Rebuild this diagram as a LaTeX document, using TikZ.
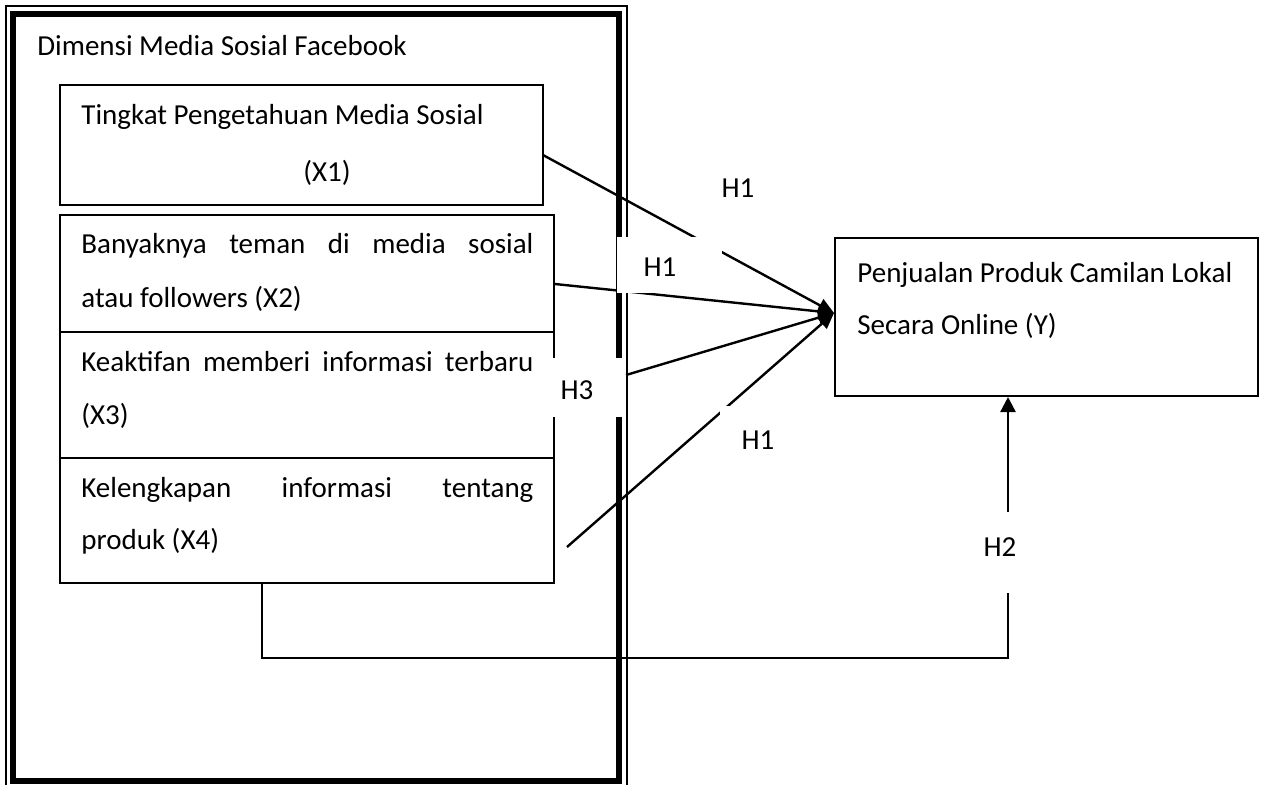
\documentclass[tikz,border=0pt]{standalone}
\usepackage{fontspec}
\setmainfont{Carlito}
\usetikzlibrary{fit,arrows.meta}
\newcommand\figfont{\fontsize{14.5pt}{17pt}\selectfont}
\begin{document}
\begin{tikzpicture}[x=0.5pt,y=-0.5pt,
  box/.style={draw,line width=1pt,inner sep=0pt},
  txt/.style={inner sep=0pt,anchor=base west,font=\figfont},
  lbl/.style={inner sep=0pt,font=\figfont},
  conn/.style={line width=1.2pt,-{Triangle[length=8pt,width=7pt]}},
  cover/.style={fill=white,draw=none}]
\useasboundingbox (0,0) rectangle (1262,784);
% frame
\draw[line width=1pt] (6,800) -- (6,6) -- (627,6) -- (627,800);
\draw[line width=3.3pt] (13,14) rectangle (619,781);
% boxes
\node[box,fit={(60,85)(543,205)}] (x1) {};
\node[box,fit={(60,215)(554,332)}] (x2) {};
\node[box,fit={(60,332)(554,458)}] (x3) {};
\node[box,fit={(60,458)(554,583)}] (x4) {};
\node[box,fit={(835,238)(1258,396)}] (y) {};
% connectors
\coordinate (s1) at (543,155);
\coordinate (s2) at (555,284);
\coordinate (s3) at (626,375);
\coordinate (s4) at (567,547);
\coordinate (tip) at (834,313);
\draw[conn] (s1) -- (tip);
\draw[conn] (s2) -- (tip);
\draw[conn] (s3) -- (tip);
\draw[conn] (s4) -- (tip);
\coordinate (h2a) at (262,583);
\coordinate (h2b) at (1008,658);
\draw[line width=1.2pt,-{Triangle[length=7.5pt,width=7.5pt]}] (h2a) |- (h2b) -- (h2b |- y.south);
% label covers
\path[cover] (617,237) rectangle (722,293);
\path[cover] (553,358) rectangle (624,417);
\path[cover] (720,406) rectangle (800,470);
\path[cover] (975,512) rectangle (1040,593);
% texts
\node[txt] (t0) at (37,55) {Dimensi Media Sosial Facebook};
\node[txt] (t1a) at (81,124) {Tingkat Pengetahuan Media Sosial};
\node[lbl,anchor=base] (t1b) at (327,181) {(X1)};
\node[txt] (t2a) at (81,253) {\makebox[226pt][s]{Banyaknya teman di media sosial}};
\node[txt] (t2b) at (81,307) {atau followers (X2)};
\node[txt] (t3a) at (81,371) {\makebox[226pt][s]{Keaktifan memberi informasi terbaru}};
\node[txt] (t3b) at (81,424) {(X3)};
\node[txt] (t4a) at (81,497) {\makebox[226pt][s]{Kelengkapan informasi tentang}};
\node[txt] (t4b) at (81,549) {produk (X4)};
\node[txt] (ty1) at (857,282) {Penjualan Produk Camilan Lokal};
\node[txt] (ty2) at (857,334) {Secara Online (Y)};
% hypothesis labels
\node[lbl] (h1a) at (738,188) {H1};
\node[lbl] (h1b) at (660,267) {H1};
\node[lbl] (h3) at (577,390) {H3};
\node[lbl] (h1c) at (758,440) {H1};
\node[lbl] (h2) at (1000,547) {H2};
\end{tikzpicture}
\end{document}
